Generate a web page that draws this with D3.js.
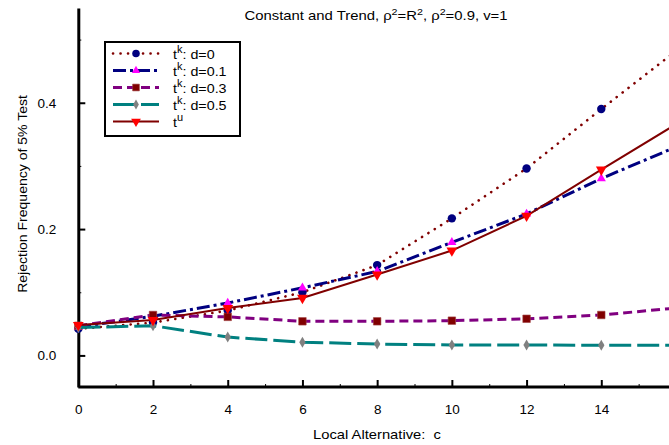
<!DOCTYPE html>
<html>
<head>
<meta charset="utf-8">
<script src="https://cdn.jsdelivr.net/npm/d3@7"></script>
<style>
  html, body { margin: 0; padding: 0; background: #fff; }
  svg { display: block; font-family: "Liberation Sans", Arial, sans-serif; }
</style>
</head>
<body>
<svg id="chart" width="669" height="445"></svg>
<script>
// ---- data ----
const cValues = [0, 2, 4, 6, 8, 10, 12, 14, 16];
const tk_d0   = [0.042, 0.052, 0.071, 0.100, 0.143, 0.217, 0.296, 0.390, 0.482];
const tk_d01  = [0.045, 0.062, 0.083, 0.107, 0.133, 0.179, 0.224, 0.280, 0.330];
const tk_d03  = [0.047, 0.064, 0.061, 0.054, 0.054, 0.055, 0.058, 0.064, 0.075];
const tk_d05  = [0.044, 0.047, 0.029, 0.021, 0.018, 0.0165, 0.0165, 0.016, 0.016];
const tu      = [0.048, 0.056, 0.075, 0.091, 0.128, 0.166, 0.221, 0.294, 0.366];
const xMajorTicks = [0, 2, 4, 6, 8, 10, 12, 14];
const xMinorTicks = [1, 3, 5, 7, 9, 11, 13, 15];
const yMajorTicks = [0.0, 0.2, 0.4];
const yMinorTicks = [0.1, 0.3, 0.5];
const seriesNames = ["d=0", "d=0.1", "d=0.3", "d=0.5", "u"];

const series = [
  { name: seriesNames[0], sup: "k", label: ": d=0",   values: tk_d0,  stroke: "#800000", width: 2.6, dash: "0.1 7.4", cap: "round", marker: "circle",   mfill: "#000080", msize: 4.2 },
  { name: seriesNames[1], sup: "k", label: ": d=0.1", values: tk_d01, stroke: "#000080", width: 3,   dash: "13 4 3 4", cap: "butt", marker: "triUp",    mfill: "#ff00ff", msize: 5.5 },
  { name: seriesNames[2], sup: "k", label: ": d=0.3", values: tk_d03, stroke: "#800080", width: 3,   dash: "9 5",     cap: "butt",  marker: "square",   mfill: "#800000", msize: 7.5 },
  { name: seriesNames[3], sup: "k", label: ": d=0.5", values: tk_d05, stroke: "#008080", width: 3,   dash: "22 6",    cap: "butt",  marker: "diamond",  mfill: "#808080", msize: 5 },
  { name: seriesNames[4], sup: "u", label: "",        values: tu,     stroke: "#800000", width: 2,   dash: null,      cap: "butt",  marker: "triDown",  mfill: "#ff0000", msize: 6.5 }
];

// ---- layout ----
const svg = d3.select("#chart");
const x = d3.scaleLinear().domain([0, 16]).range([78.3, 676]);
const y = d3.scaleLinear().domain([-0.05, 0.55]).range([387, 8]);

// ---- title ----
const title = svg.append("text")
  .attr("transform", "translate(376,20) scale(1.19,1)")
  .attr("text-anchor", "middle")
  .attr("font-size", 12.5)
  .attr("fill", "#000");
title.append("tspan").text("Constant and Trend, \u03c1");
title.append("tspan").attr("dy", -5).attr("font-size", 9).text("2");
title.append("tspan").attr("dy", 5).text("=R");
title.append("tspan").attr("dy", -5).attr("font-size", 9).text("2");
title.append("tspan").attr("dy", 5).text(", \u03c1");
title.append("tspan").attr("dy", -5).attr("font-size", 9).text("2");
title.append("tspan").attr("dy", 5).text("=0.9, v=1");

// ---- axes ----
const axisFont = 13.5;
const yAxis = svg.append("g").attr("transform", `translate(${x(0)},0)`)
  .call(d3.axisLeft(y).tickValues(yMajorTicks).tickFormat(d3.format(".1f"))
    .tickSize(-7).tickSizeOuter(0).tickPadding(22));
yAxis.select(".domain").attr("stroke", "#000").attr("stroke-width", 3);
yAxis.selectAll(".tick line").attr("stroke-width", 2);
yAxis.selectAll(".tick text").attr("font-size", axisFont).attr("font-family", "Liberation Sans, Arial, sans-serif").attr("fill", "#000");

const yMinor = svg.append("g").attr("transform", `translate(${x(0)},0)`)
  .call(d3.axisLeft(y).tickValues(yMinorTicks).tickFormat("").tickSize(-3).tickSizeOuter(0));
yMinor.select(".domain").remove();
yMinor.selectAll(".tick line").attr("stroke-width", 1);

const xAxis = svg.append("g").attr("transform", `translate(0,${y(-0.05)})`)
  .call(d3.axisBottom(x).tickValues(xMajorTicks).tickFormat(d3.format("d"))
    .tickSize(-7).tickSizeOuter(0).tickPadding(17));
xAxis.select(".domain").remove();
xAxis.selectAll(".tick line").attr("stroke-width", 2);
xAxis.selectAll(".tick text").attr("font-size", axisFont).attr("font-family", "Liberation Sans, Arial, sans-serif").attr("fill", "#000");
svg.append("line")
  .attr("x1", x(0)).attr("x2", x(16)).attr("y1", y(-0.05)).attr("y2", y(-0.05))
  .attr("stroke", "#000").attr("stroke-width", 3);

const xMinor = svg.append("g").attr("transform", `translate(0,${y(-0.05)})`)
  .call(d3.axisBottom(x).tickValues(xMinorTicks).tickFormat("").tickSize(-3).tickSizeOuter(0));
xMinor.select(".domain").remove();
xMinor.selectAll(".tick line").attr("stroke-width", 1);

// axis titles
svg.append("text")
  .attr("transform", `translate(27,194) rotate(-90) scale(1.08,1)`)
  .attr("text-anchor", "middle").attr("font-size", 13).attr("fill", "#000")
  .text("Rejection Frequency of 5% Test");
svg.append("text")
  .attr("transform", "translate(377,439) scale(1.135,1)")
  .attr("text-anchor", "middle").attr("font-size", 13).attr("fill", "#000")
  .text("Local Alternative:\u00a0\u00a0c");

// ---- markers ----
function drawMarker(g, type, size, fill) {
  if (type === "circle") {
    g.append("circle").attr("r", size).attr("fill", fill);
  } else {
    const sym = {
      square: d3.symbolSquare,
      diamond: d3.symbolDiamond,
      triUp: d3.symbolTriangle,
      triDown: d3.symbolTriangle
    }[type];
    const area = type === "square" ? size * size
               : type === "diamond" ? size * size * 1.4
               : size * size * 1.2;
    const p = g.append("path").attr("d", d3.symbol().type(sym).size(area)()).attr("fill", fill);
    if (type === "triDown") p.attr("transform", "rotate(180)");
    if (type === "square") p.attr("stroke", "#a04040").attr("stroke-width", 0.6);
  }
}

// ---- lines ----
const line = d3.line().x((d, i) => x(cValues[i])).y(d => y(d));
const plot = svg.append("g");
series.forEach(s => {
  const g = plot.append("g");
  const path = g.append("path").datum(s.values)
    .attr("d", line)
    .attr("fill", "none")
    .attr("stroke", s.stroke)
    .attr("stroke-width", s.width)
    .attr("stroke-linecap", s.cap);
  if (s.dash) path.attr("stroke-dasharray", s.dash);
  s.values.forEach((v, i) => {
    const mg = g.append("g").attr("transform", `translate(${x(cValues[i])},${y(v)})`);
    drawMarker(mg, s.marker, s.msize, s.mfill);
  });
});

// ---- legend ----
const legend = svg.append("g");
legend.append("rect")
  .attr("x", 105).attr("y", 42).attr("width", 135).attr("height", 94)
  .attr("fill", "#fff").attr("stroke", "#000").attr("stroke-width", 2);
const rowY = d3.scalePoint().domain(seriesNames).range([53.5, 121.5]);
series.forEach(s => {
  const ry = rowY(s.name);
  const l = legend.append("line")
    .attr("x1", 113).attr("x2", 159).attr("y1", ry).attr("y2", ry)
    .attr("stroke", s.stroke).attr("stroke-width", s.width)
    .attr("stroke-linecap", s.cap);
  if (s.dash) l.attr("stroke-dasharray", s.dash);
  const mg = legend.append("g").attr("transform", `translate(136,${ry})`);
  drawMarker(mg, s.marker, s.msize * 0.9, s.mfill);
  const t = legend.append("text")
    .attr("transform", `translate(173,${ry + 5}) scale(1.1,1)`)
    .attr("font-size", 13).attr("fill", "#000");
  t.append("tspan").text("t");
  t.append("tspan").attr("dy", -6).attr("font-size", 10).text(s.sup);
  t.append("tspan").attr("dy", 6).text(s.label);
});
</script>
</body>
</html>
